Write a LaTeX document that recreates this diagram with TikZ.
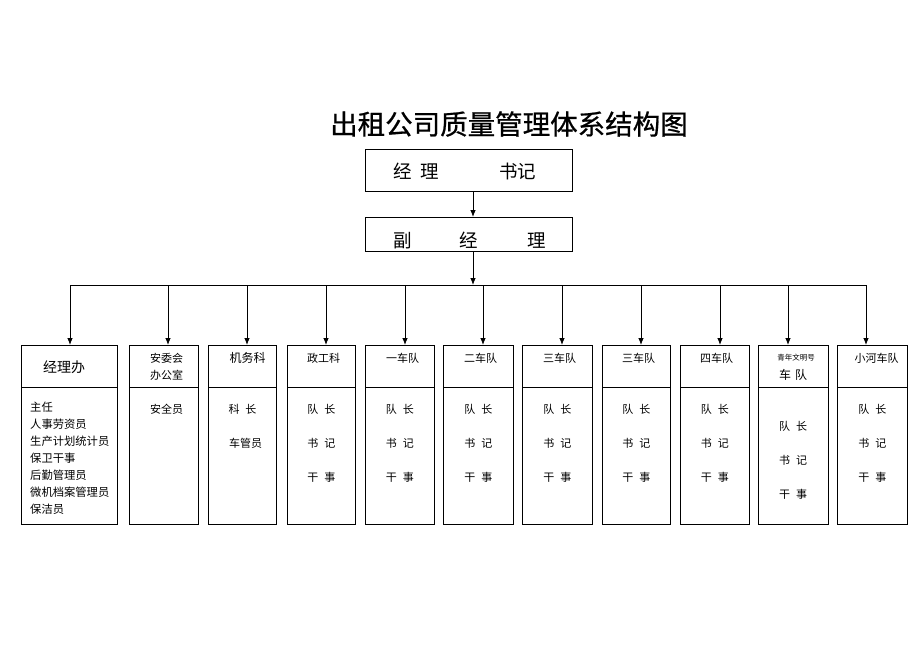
\documentclass[tikz,border=0pt]{standalone}
\usepackage{fontspec}
\setmainfont{Noto Sans CJK SC}
\newfontfamily\titlefont[FakeBold=0.7]{Noto Sans CJK SC}
\usetikzlibrary{arrows.meta}
\begin{document}
\begin{tikzpicture}[x=1pt,y=-1pt]
\tikzset{
  box/.style={draw, line width=0.8pt, inner sep=0pt, anchor=north west},
  arr/.style={line width=0.8pt, -{Latex[length=7pt,width=5.5pt]}},
  ln/.style={line width=0.8pt},
  txt/.style={inner sep=0pt, font=\fontsize{11}{13}\selectfont},
}
\fill[white] (0,0) rectangle (920,651);
\useasboundingbox (0,0) rectangle (920,651);

% title
\node[inner sep=0pt, anchor=west, font=\fontsize{27.5}{30}\selectfont\titlefont] (title) at (330,124) {出租公司质量管理体系结构图};

% top boxes
\node[box, minimum width=207pt, minimum height=42pt] (mgr) at (365,149) {};
\node[inner sep=0pt, anchor=west, font=\fontsize{18.5}{20}\selectfont] (mgrt) at (393,171) {经\hspace{9pt}理\hspace{60pt}书记};
\node[box, minimum width=207pt, minimum height=34pt] (vp) at (365,217) {};
\node[inner sep=0pt, anchor=west, font=\fontsize{18.5}{20}\selectfont] (vpt) at (393,240) {副\hspace{48pt}经\hspace{49pt}理};

\coordinate (top) at (473,191);
\draw[arr] (mgr.south -| top) -- (vp.north -| top);
\coordinate (bj) at (473,285);
\draw[arr] (vp.south -| bj) -- (bj);

% child boxes
\foreach \n/\lx/\w/\ax in {1/21/96/70, 2/129/69/168, 3/208/68/247, 4/287/68/326, 5/365/69/405, 6/443/70/483, 7/522/70/562, 8/602/68/641, 9/680/69/720, 10/758/70/788, 11/837/70/866}{
  \node[box, minimum width=\w pt, minimum height=179pt] (c\n) at (\lx,345) {};
  \draw[ln] ([yshift=-42.5pt]c\n.north west) -- ([yshift=-42.5pt]c\n.north east);
  \coordinate (b\n) at (\ax,285);
  \draw[arr] (b\n) -- (b\n |- c\n.north);
}
\draw[ln] (b1) -- (b11);

% box 1
\node[inner sep=0pt, font=\fontsize{14}{16}\selectfont] (t1) at (64,367) {经理办};
\node[inner sep=0pt, anchor=north west, align=left, font=\fontsize{11.3}{17}\selectfont] (l1) at (30,402)
  {主任\\人事劳资员\\生产计划统计员\\保卫干事\\后勤管理员\\微机档案管理员\\保洁员};

% box 2
\node[txt] (t2a) at (166.5,358) {安委会};
\node[txt] (t2b) at (166.5,375) {办公室};
\node[txt] (t2c) at (166.5,409) {安全员};

% box 3
\node[txt, font=\fontsize{12}{14}\selectfont] (t3) at (247.5,358) {机务科};
\node[txt] (t3a) at (242.5,409) {科\hspace{6pt}长};
\node[txt] (t3b) at (245.5,443) {车管员};

% team headers
\foreach \n/\hx/\t in {4/323.5/政工科, 5/402.5/一车队, 6/480.5/二车队, 7/559.5/三车队, 8/638.5/三车队, 9/716.5/四车队, 11/876.5/小河车队}{
  \node[txt] (h\n) at (\hx,358) {\t};
}
\foreach \n in {4,5,6,7,8,9,11}{
  \node[txt] (p\n) at (c\n.north |- 0,409) {队\hspace{6pt}长};
  \node[txt] (s\n) at (c\n.north |- 0,443) {书\hspace{6pt}记};
  \node[txt] (g\n) at (c\n.north |- 0,477) {干\hspace{6pt}事};
}

% box 10
\node[txt, font=\fontsize{7.5}{9}\selectfont] (h10a) at (796,358) {青年文明号};
\node[txt, font=\fontsize{12}{14}\selectfont] (h10b) at (793,375) {车\hspace{4pt}队};
\node[txt] (p10) at (793,426) {队\hspace{6pt}长};
\node[txt] (s10) at (793,460) {书\hspace{6pt}记};
\node[txt] (g10) at (793,494) {干\hspace{6pt}事};
\end{tikzpicture}
\end{document}
